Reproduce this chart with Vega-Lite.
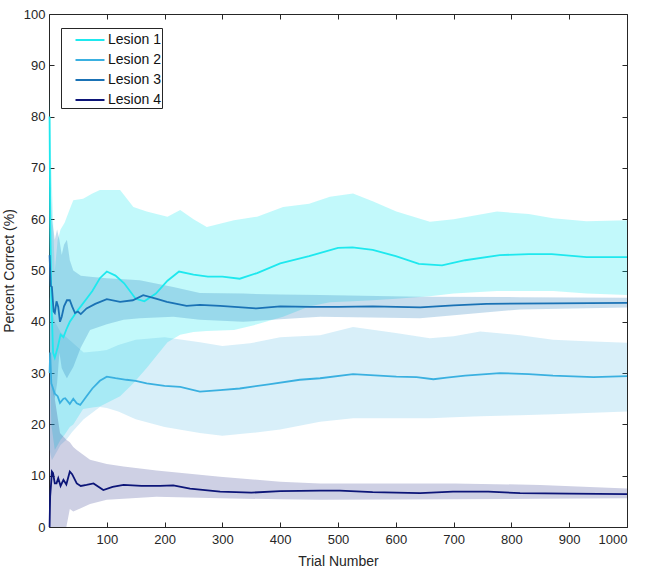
{
  "$schema": "https://vega.github.io/schema/vega-lite/v6.json",
  "width": 578,
  "height": 513,
  "autosize": {"type": "none"},
  "padding": {"left": 49, "top": 14, "right": 18, "bottom": 43},
  "background": "white",
  "config": {
    "view": {"stroke": "#262626", "strokeWidth": 1},
    "font": "Liberation Sans",
    "axis": {
      "domain": false,
      "tickColor": "#262626",
      "labelColor": "#262626",
      "titleColor": "#262626",
      "labelFontSize": 13,
      "titleFontSize": 14,
      "titleFontWeight": "normal",
      "grid": false,
      "tickSize": 5,
      "offset": -5
    }
  },
  "datasets": {
    "means": [
      {"lesion": "Lesion 1", "trial": 1, "pct": 80},
      {"lesion": "Lesion 1", "trial": 2, "pct": 60},
      {"lesion": "Lesion 1", "trial": 4, "pct": 45},
      {"lesion": "Lesion 1", "trial": 7, "pct": 34},
      {"lesion": "Lesion 1", "trial": 10, "pct": 33},
      {"lesion": "Lesion 1", "trial": 15, "pct": 35},
      {"lesion": "Lesion 1", "trial": 20, "pct": 37.5},
      {"lesion": "Lesion 1", "trial": 25, "pct": 37},
      {"lesion": "Lesion 1", "trial": 30, "pct": 38.5},
      {"lesion": "Lesion 1", "trial": 36, "pct": 40},
      {"lesion": "Lesion 1", "trial": 42, "pct": 41},
      {"lesion": "Lesion 1", "trial": 48, "pct": 42},
      {"lesion": "Lesion 1", "trial": 55, "pct": 43},
      {"lesion": "Lesion 1", "trial": 65, "pct": 44.5},
      {"lesion": "Lesion 1", "trial": 75, "pct": 46},
      {"lesion": "Lesion 1", "trial": 88, "pct": 48.5},
      {"lesion": "Lesion 1", "trial": 100, "pct": 49.8},
      {"lesion": "Lesion 1", "trial": 115, "pct": 49},
      {"lesion": "Lesion 1", "trial": 130, "pct": 47.5},
      {"lesion": "Lesion 1", "trial": 150, "pct": 44.5},
      {"lesion": "Lesion 1", "trial": 165, "pct": 44},
      {"lesion": "Lesion 1", "trial": 185, "pct": 45.5},
      {"lesion": "Lesion 1", "trial": 205, "pct": 48},
      {"lesion": "Lesion 1", "trial": 225, "pct": 49.8},
      {"lesion": "Lesion 1", "trial": 250, "pct": 49.2},
      {"lesion": "Lesion 1", "trial": 275, "pct": 48.8},
      {"lesion": "Lesion 1", "trial": 300, "pct": 48.8},
      {"lesion": "Lesion 1", "trial": 330, "pct": 48.4},
      {"lesion": "Lesion 1", "trial": 360, "pct": 49.5},
      {"lesion": "Lesion 1", "trial": 400, "pct": 51.4},
      {"lesion": "Lesion 1", "trial": 450, "pct": 52.8},
      {"lesion": "Lesion 1", "trial": 500, "pct": 54.4},
      {"lesion": "Lesion 1", "trial": 525, "pct": 54.5},
      {"lesion": "Lesion 1", "trial": 560, "pct": 54},
      {"lesion": "Lesion 1", "trial": 600, "pct": 52.8},
      {"lesion": "Lesion 1", "trial": 640, "pct": 51.3},
      {"lesion": "Lesion 1", "trial": 680, "pct": 51},
      {"lesion": "Lesion 1", "trial": 720, "pct": 52},
      {"lesion": "Lesion 1", "trial": 780, "pct": 53},
      {"lesion": "Lesion 1", "trial": 830, "pct": 53.2},
      {"lesion": "Lesion 1", "trial": 870, "pct": 53.2},
      {"lesion": "Lesion 1", "trial": 930, "pct": 52.6},
      {"lesion": "Lesion 1", "trial": 1000, "pct": 52.6},

      {"lesion": "Lesion 2", "trial": 1, "pct": 30},
      {"lesion": "Lesion 2", "trial": 2, "pct": 34},
      {"lesion": "Lesion 2", "trial": 4, "pct": 28},
      {"lesion": "Lesion 2", "trial": 7, "pct": 27},
      {"lesion": "Lesion 2", "trial": 10, "pct": 26},
      {"lesion": "Lesion 2", "trial": 15, "pct": 25.5},
      {"lesion": "Lesion 2", "trial": 19, "pct": 24.2},
      {"lesion": "Lesion 2", "trial": 25, "pct": 25},
      {"lesion": "Lesion 2", "trial": 28, "pct": 25.1},
      {"lesion": "Lesion 2", "trial": 36, "pct": 24},
      {"lesion": "Lesion 2", "trial": 42, "pct": 25},
      {"lesion": "Lesion 2", "trial": 48, "pct": 24.1},
      {"lesion": "Lesion 2", "trial": 54, "pct": 23.8},
      {"lesion": "Lesion 2", "trial": 65, "pct": 25.5},
      {"lesion": "Lesion 2", "trial": 75, "pct": 27},
      {"lesion": "Lesion 2", "trial": 88, "pct": 28.5},
      {"lesion": "Lesion 2", "trial": 100, "pct": 29.3},
      {"lesion": "Lesion 2", "trial": 115, "pct": 29},
      {"lesion": "Lesion 2", "trial": 134, "pct": 28.7},
      {"lesion": "Lesion 2", "trial": 150, "pct": 28.5},
      {"lesion": "Lesion 2", "trial": 169, "pct": 28},
      {"lesion": "Lesion 2", "trial": 200, "pct": 27.5},
      {"lesion": "Lesion 2", "trial": 227, "pct": 27.3},
      {"lesion": "Lesion 2", "trial": 261, "pct": 26.4},
      {"lesion": "Lesion 2", "trial": 296, "pct": 26.7},
      {"lesion": "Lesion 2", "trial": 330, "pct": 27},
      {"lesion": "Lesion 2", "trial": 380, "pct": 27.8},
      {"lesion": "Lesion 2", "trial": 434, "pct": 28.7},
      {"lesion": "Lesion 2", "trial": 469, "pct": 29},
      {"lesion": "Lesion 2", "trial": 526, "pct": 29.8},
      {"lesion": "Lesion 2", "trial": 601, "pct": 29.3},
      {"lesion": "Lesion 2", "trial": 636, "pct": 29.2},
      {"lesion": "Lesion 2", "trial": 665, "pct": 28.8},
      {"lesion": "Lesion 2", "trial": 688, "pct": 29.1},
      {"lesion": "Lesion 2", "trial": 720, "pct": 29.5},
      {"lesion": "Lesion 2", "trial": 780, "pct": 30},
      {"lesion": "Lesion 2", "trial": 830, "pct": 29.8},
      {"lesion": "Lesion 2", "trial": 872, "pct": 29.5},
      {"lesion": "Lesion 2", "trial": 942, "pct": 29.2},
      {"lesion": "Lesion 2", "trial": 1000, "pct": 29.4},

      {"lesion": "Lesion 3", "trial": 1, "pct": 53},
      {"lesion": "Lesion 3", "trial": 3, "pct": 47},
      {"lesion": "Lesion 3", "trial": 5, "pct": 46.8},
      {"lesion": "Lesion 3", "trial": 8, "pct": 42},
      {"lesion": "Lesion 3", "trial": 10, "pct": 41.7},
      {"lesion": "Lesion 3", "trial": 13, "pct": 44},
      {"lesion": "Lesion 3", "trial": 16, "pct": 42.9},
      {"lesion": "Lesion 3", "trial": 19, "pct": 40},
      {"lesion": "Lesion 3", "trial": 22, "pct": 41},
      {"lesion": "Lesion 3", "trial": 26, "pct": 43},
      {"lesion": "Lesion 3", "trial": 31, "pct": 44.2},
      {"lesion": "Lesion 3", "trial": 36, "pct": 44.2},
      {"lesion": "Lesion 3", "trial": 40, "pct": 43},
      {"lesion": "Lesion 3", "trial": 45, "pct": 41.7},
      {"lesion": "Lesion 3", "trial": 50, "pct": 42},
      {"lesion": "Lesion 3", "trial": 55, "pct": 41.5},
      {"lesion": "Lesion 3", "trial": 65, "pct": 42.6},
      {"lesion": "Lesion 3", "trial": 80, "pct": 43.5},
      {"lesion": "Lesion 3", "trial": 100, "pct": 44.4},
      {"lesion": "Lesion 3", "trial": 123, "pct": 43.9},
      {"lesion": "Lesion 3", "trial": 145, "pct": 44.2},
      {"lesion": "Lesion 3", "trial": 163, "pct": 45.2},
      {"lesion": "Lesion 3", "trial": 185, "pct": 44.5},
      {"lesion": "Lesion 3", "trial": 204, "pct": 43.9},
      {"lesion": "Lesion 3", "trial": 238, "pct": 43.1},
      {"lesion": "Lesion 3", "trial": 261, "pct": 43.3},
      {"lesion": "Lesion 3", "trial": 296, "pct": 43.1},
      {"lesion": "Lesion 3", "trial": 359, "pct": 42.6},
      {"lesion": "Lesion 3", "trial": 400, "pct": 43},
      {"lesion": "Lesion 3", "trial": 452, "pct": 42.9},
      {"lesion": "Lesion 3", "trial": 500, "pct": 42.9},
      {"lesion": "Lesion 3", "trial": 560, "pct": 43},
      {"lesion": "Lesion 3", "trial": 642, "pct": 42.8},
      {"lesion": "Lesion 3", "trial": 700, "pct": 43.2},
      {"lesion": "Lesion 3", "trial": 757, "pct": 43.5},
      {"lesion": "Lesion 3", "trial": 872, "pct": 43.6},
      {"lesion": "Lesion 3", "trial": 1000, "pct": 43.7},

      {"lesion": "Lesion 4", "trial": 1, "pct": 0},
      {"lesion": "Lesion 4", "trial": 2, "pct": 6},
      {"lesion": "Lesion 4", "trial": 4, "pct": 9},
      {"lesion": "Lesion 4", "trial": 5, "pct": 10.8},
      {"lesion": "Lesion 4", "trial": 7, "pct": 10.5},
      {"lesion": "Lesion 4", "trial": 10, "pct": 8.5},
      {"lesion": "Lesion 4", "trial": 13, "pct": 8.5},
      {"lesion": "Lesion 4", "trial": 16, "pct": 9.5},
      {"lesion": "Lesion 4", "trial": 20, "pct": 8},
      {"lesion": "Lesion 4", "trial": 25, "pct": 9.2},
      {"lesion": "Lesion 4", "trial": 30, "pct": 8.3},
      {"lesion": "Lesion 4", "trial": 36, "pct": 10.8},
      {"lesion": "Lesion 4", "trial": 40, "pct": 10.3},
      {"lesion": "Lesion 4", "trial": 48, "pct": 8.5},
      {"lesion": "Lesion 4", "trial": 55, "pct": 8},
      {"lesion": "Lesion 4", "trial": 65, "pct": 8.2},
      {"lesion": "Lesion 4", "trial": 77, "pct": 8.5},
      {"lesion": "Lesion 4", "trial": 94, "pct": 7.2},
      {"lesion": "Lesion 4", "trial": 110, "pct": 7.8},
      {"lesion": "Lesion 4", "trial": 129, "pct": 8.2},
      {"lesion": "Lesion 4", "trial": 160, "pct": 8},
      {"lesion": "Lesion 4", "trial": 192, "pct": 8},
      {"lesion": "Lesion 4", "trial": 215, "pct": 8.1},
      {"lesion": "Lesion 4", "trial": 244, "pct": 7.5},
      {"lesion": "Lesion 4", "trial": 296, "pct": 6.9},
      {"lesion": "Lesion 4", "trial": 350, "pct": 6.7},
      {"lesion": "Lesion 4", "trial": 400, "pct": 7},
      {"lesion": "Lesion 4", "trial": 469, "pct": 7.1},
      {"lesion": "Lesion 4", "trial": 503, "pct": 7.1},
      {"lesion": "Lesion 4", "trial": 560, "pct": 6.8},
      {"lesion": "Lesion 4", "trial": 642, "pct": 6.6},
      {"lesion": "Lesion 4", "trial": 699, "pct": 6.9},
      {"lesion": "Lesion 4", "trial": 760, "pct": 6.9},
      {"lesion": "Lesion 4", "trial": 815, "pct": 6.6},
      {"lesion": "Lesion 4", "trial": 900, "pct": 6.5},
      {"lesion": "Lesion 4", "trial": 1000, "pct": 6.4}
    ],
    "bands": [
      {"lesion": "Lesion 1", "trial": 1, "lo": 35, "hi": 85},
      {"lesion": "Lesion 1", "trial": 4, "lo": 20, "hi": 70},
      {"lesion": "Lesion 1", "trial": 10, "lo": 15, "hi": 50},
      {"lesion": "Lesion 1", "trial": 15, "lo": 16, "hi": 56},
      {"lesion": "Lesion 1", "trial": 20, "lo": 17, "hi": 58},
      {"lesion": "Lesion 1", "trial": 27, "lo": 18, "hi": 59.3},
      {"lesion": "Lesion 1", "trial": 36, "lo": 19.5, "hi": 62},
      {"lesion": "Lesion 1", "trial": 42, "lo": 20, "hi": 63.7},
      {"lesion": "Lesion 1", "trial": 59, "lo": 23, "hi": 64},
      {"lesion": "Lesion 1", "trial": 75, "lo": 23.3, "hi": 65},
      {"lesion": "Lesion 1", "trial": 88, "lo": 23.5, "hi": 65.7},
      {"lesion": "Lesion 1", "trial": 123, "lo": 25.5, "hi": 65.7},
      {"lesion": "Lesion 1", "trial": 146, "lo": 28, "hi": 62.4},
      {"lesion": "Lesion 1", "trial": 169, "lo": 31, "hi": 61.5},
      {"lesion": "Lesion 1", "trial": 205, "lo": 36, "hi": 60.5},
      {"lesion": "Lesion 1", "trial": 227, "lo": 37.5, "hi": 61.8},
      {"lesion": "Lesion 1", "trial": 250, "lo": 38, "hi": 60},
      {"lesion": "Lesion 1", "trial": 273, "lo": 38.2, "hi": 58.5},
      {"lesion": "Lesion 1", "trial": 320, "lo": 38.4, "hi": 59.8},
      {"lesion": "Lesion 1", "trial": 360, "lo": 39.5, "hi": 60.5},
      {"lesion": "Lesion 1", "trial": 405, "lo": 41, "hi": 62.4},
      {"lesion": "Lesion 1", "trial": 450, "lo": 43, "hi": 63},
      {"lesion": "Lesion 1", "trial": 486, "lo": 43.8, "hi": 64.4},
      {"lesion": "Lesion 1", "trial": 526, "lo": 44, "hi": 65},
      {"lesion": "Lesion 1", "trial": 560, "lo": 44.2, "hi": 63.5},
      {"lesion": "Lesion 1", "trial": 601, "lo": 44.5, "hi": 61.5},
      {"lesion": "Lesion 1", "trial": 659, "lo": 45, "hi": 59.5},
      {"lesion": "Lesion 1", "trial": 700, "lo": 45.5, "hi": 60},
      {"lesion": "Lesion 1", "trial": 775, "lo": 46, "hi": 61.5},
      {"lesion": "Lesion 1", "trial": 830, "lo": 46, "hi": 61},
      {"lesion": "Lesion 1", "trial": 872, "lo": 46, "hi": 60.2},
      {"lesion": "Lesion 1", "trial": 930, "lo": 45.5, "hi": 59.6},
      {"lesion": "Lesion 1", "trial": 1000, "lo": 45.2, "hi": 59.8},

      {"lesion": "Lesion 2", "trial": 1, "lo": 15, "hi": 45},
      {"lesion": "Lesion 2", "trial": 5, "lo": 13, "hi": 42},
      {"lesion": "Lesion 2", "trial": 10, "lo": 14, "hi": 40},
      {"lesion": "Lesion 2", "trial": 20, "lo": 16, "hi": 38},
      {"lesion": "Lesion 2", "trial": 30, "lo": 17, "hi": 37},
      {"lesion": "Lesion 2", "trial": 40, "lo": 18.5, "hi": 36},
      {"lesion": "Lesion 2", "trial": 60, "lo": 21, "hi": 34},
      {"lesion": "Lesion 2", "trial": 88, "lo": 23.4, "hi": 34.3},
      {"lesion": "Lesion 2", "trial": 100, "lo": 23.2, "hi": 34.5},
      {"lesion": "Lesion 2", "trial": 120, "lo": 22.5, "hi": 35.5},
      {"lesion": "Lesion 2", "trial": 150, "lo": 21, "hi": 36.5},
      {"lesion": "Lesion 2", "trial": 200, "lo": 19.5, "hi": 37},
      {"lesion": "Lesion 2", "trial": 261, "lo": 18.3, "hi": 36},
      {"lesion": "Lesion 2", "trial": 300, "lo": 17.8, "hi": 35.3},
      {"lesion": "Lesion 2", "trial": 348, "lo": 18.3, "hi": 35.8},
      {"lesion": "Lesion 2", "trial": 400, "lo": 19, "hi": 37},
      {"lesion": "Lesion 2", "trial": 469, "lo": 20.5, "hi": 37.4},
      {"lesion": "Lesion 2", "trial": 526, "lo": 21.2, "hi": 39},
      {"lesion": "Lesion 2", "trial": 600, "lo": 21.2, "hi": 37.8},
      {"lesion": "Lesion 2", "trial": 659, "lo": 21.2, "hi": 36.8},
      {"lesion": "Lesion 2", "trial": 700, "lo": 21.4, "hi": 37.2},
      {"lesion": "Lesion 2", "trial": 746, "lo": 21.6, "hi": 38.1},
      {"lesion": "Lesion 2", "trial": 815, "lo": 21.8, "hi": 37.4},
      {"lesion": "Lesion 2", "trial": 872, "lo": 22, "hi": 36.5},
      {"lesion": "Lesion 2", "trial": 930, "lo": 22.2, "hi": 36.2},
      {"lesion": "Lesion 2", "trial": 1000, "lo": 22.5, "hi": 35.9},

      {"lesion": "Lesion 3", "trial": 1, "lo": 30, "hi": 68},
      {"lesion": "Lesion 3", "trial": 3, "lo": 29, "hi": 66},
      {"lesion": "Lesion 3", "trial": 5, "lo": 28, "hi": 60},
      {"lesion": "Lesion 3", "trial": 7, "lo": 26, "hi": 58.5},
      {"lesion": "Lesion 3", "trial": 10, "lo": 25, "hi": 56},
      {"lesion": "Lesion 3", "trial": 14, "lo": 28, "hi": 58},
      {"lesion": "Lesion 3", "trial": 18, "lo": 34, "hi": 56},
      {"lesion": "Lesion 3", "trial": 22, "lo": 31, "hi": 53},
      {"lesion": "Lesion 3", "trial": 26, "lo": 30, "hi": 55},
      {"lesion": "Lesion 3", "trial": 31, "lo": 29, "hi": 56},
      {"lesion": "Lesion 3", "trial": 36, "lo": 30, "hi": 52},
      {"lesion": "Lesion 3", "trial": 42, "lo": 31.2, "hi": 50},
      {"lesion": "Lesion 3", "trial": 55, "lo": 35, "hi": 49},
      {"lesion": "Lesion 3", "trial": 71, "lo": 38.4, "hi": 48.8},
      {"lesion": "Lesion 3", "trial": 100, "lo": 39.5, "hi": 48.5},
      {"lesion": "Lesion 3", "trial": 129, "lo": 40.4, "hi": 48.3},
      {"lesion": "Lesion 3", "trial": 157, "lo": 40.7, "hi": 48.1},
      {"lesion": "Lesion 3", "trial": 215, "lo": 41, "hi": 46.8},
      {"lesion": "Lesion 3", "trial": 261, "lo": 40.4, "hi": 45.6},
      {"lesion": "Lesion 3", "trial": 336, "lo": 40, "hi": 45.5},
      {"lesion": "Lesion 3", "trial": 400, "lo": 40.5, "hi": 45.3},
      {"lesion": "Lesion 3", "trial": 469, "lo": 41, "hi": 45.2},
      {"lesion": "Lesion 3", "trial": 642, "lo": 40.7, "hi": 44.9},
      {"lesion": "Lesion 3", "trial": 815, "lo": 42.4, "hi": 44.8},
      {"lesion": "Lesion 3", "trial": 1000, "lo": 42.8, "hi": 44.7},

      {"lesion": "Lesion 4", "trial": 1, "lo": 0, "hi": 30},
      {"lesion": "Lesion 4", "trial": 5, "lo": 0, "hi": 28},
      {"lesion": "Lesion 4", "trial": 10, "lo": 0, "hi": 25},
      {"lesion": "Lesion 4", "trial": 19, "lo": 0, "hi": 18.3},
      {"lesion": "Lesion 4", "trial": 30, "lo": 0, "hi": 17},
      {"lesion": "Lesion 4", "trial": 36, "lo": 3.5, "hi": 16.5},
      {"lesion": "Lesion 4", "trial": 42, "lo": 3, "hi": 15.6},
      {"lesion": "Lesion 4", "trial": 48, "lo": 3.3, "hi": 15},
      {"lesion": "Lesion 4", "trial": 71, "lo": 4.5, "hi": 13.1},
      {"lesion": "Lesion 4", "trial": 100, "lo": 5.3, "hi": 12.3},
      {"lesion": "Lesion 4", "trial": 129, "lo": 5.5, "hi": 11.8},
      {"lesion": "Lesion 4", "trial": 186, "lo": 5.9, "hi": 11},
      {"lesion": "Lesion 4", "trial": 296, "lo": 5.6, "hi": 9.8},
      {"lesion": "Lesion 4", "trial": 400, "lo": 5.4, "hi": 8.8},
      {"lesion": "Lesion 4", "trial": 469, "lo": 5.3, "hi": 8.5},
      {"lesion": "Lesion 4", "trial": 700, "lo": 5.4, "hi": 8.5},
      {"lesion": "Lesion 4", "trial": 850, "lo": 5.5, "hi": 8.2},
      {"lesion": "Lesion 4", "trial": 1000, "lo": 5.6, "hi": 7.5}
    ]
  },
  "layer": [
    {
      "data": {"name": "bands"},
      "transform": [{"filter": "datum.lesion == 'Lesion 1'"}],
      "mark": {"type": "area", "color": "#00e5ee", "opacity": 0.24},
      "encoding": {
        "x": {
          "field": "trial", "type": "quantitative",
          "scale": {"domain": [0, 1000], "nice": false, "zero": false},
          "axis": {"orient": "bottom", "title": "Trial Number", "format": "d", "values": [100, 200, 300, 400, 500, 600, 700, 800, 900, 1000], "labelPadding": 6, "titlePadding": 8}
        },
        "y": {
          "field": "lo", "type": "quantitative",
          "scale": {"domain": [0, 100], "nice": false},
          "axis": {"orient": "left", "title": "Percent Correct (%)", "values": [0, 10, 20, 30, 40, 50, 60, 70, 80, 90, 100], "labelPadding": 4, "titlePadding": 7}
        },
        "y2": {"field": "hi"}
      }
    },
    {
      "data": {"name": "bands"},
      "transform": [{"filter": "datum.lesion == 'Lesion 2'"}],
      "mark": {"type": "area", "color": "#3bb0e0", "opacity": 0.2},
      "encoding": {
        "x": {"field": "trial", "type": "quantitative", "axis": null},
        "y": {"field": "lo", "type": "quantitative", "axis": null},
        "y2": {"field": "hi"}
      }
    },
    {
      "data": {"name": "bands"},
      "transform": [{"filter": "datum.lesion == 'Lesion 3'"}],
      "mark": {"type": "area", "color": "#1a74b8", "opacity": 0.24},
      "encoding": {
        "x": {"field": "trial", "type": "quantitative", "axis": null},
        "y": {"field": "lo", "type": "quantitative", "axis": null},
        "y2": {"field": "hi"}
      }
    },
    {
      "data": {"name": "bands"},
      "transform": [{"filter": "datum.lesion == 'Lesion 4'"}],
      "mark": {"type": "area", "color": "#0b1479", "opacity": 0.2},
      "encoding": {
        "x": {"field": "trial", "type": "quantitative", "axis": null},
        "y": {"field": "lo", "type": "quantitative", "axis": null},
        "y2": {"field": "hi"}
      }
    },
    {
      "data": {"name": "means"},
      "mark": {"type": "line", "strokeWidth": 1.8},
      "encoding": {
        "x": {"field": "trial", "type": "quantitative", "axis": null},
        "y": {"field": "pct", "type": "quantitative", "axis": null},
        "color": {
          "field": "lesion", "type": "nominal",
          "scale": {"domain": ["Lesion 1", "Lesion 2", "Lesion 3", "Lesion 4"], "range": ["#1ee8ee", "#3ab0e0", "#1a72b5", "#0c1578"]},
          "legend": {
            "title": null,
            "orient": "none",
            "legendX": 12,
            "legendY": 14,
            "symbolType": "M-1.45,0H1.45",
            "symbolSize": 400,
            "symbolStrokeWidth": 2,
            "symbolOffset": 17,
            "strokeColor": "#262626",
            "fillColor": "white",
            "padding": 1,
            "rowPadding": 2,
            "labelOffset": 7,
            "labelFontSize": 14,
            "labelColor": "#111111",
            "labelExpr": "datum.label + '\u00a0\u00a0\u00a0'"
          }
        }
      }
    },
    {
      "data": {"values": [{"v": 0}]},
      "mark": {"type": "rule", "opacity": 0},
      "encoding": {
        "x": {"field": "v", "type": "quantitative", "axis": {"orient": "top", "title": null, "labels": false, "values": [100, 200, 300, 400, 500, 600, 700, 800, 900, 1000]}},
        "y": {"field": "v", "type": "quantitative", "axis": {"orient": "right", "title": null, "labels": false, "values": [0, 10, 20, 30, 40, 50, 60, 70, 80, 90, 100]}}
      }
    }
  ],
  "resolve": {"axis": {"x": "independent", "y": "independent"}}
}
